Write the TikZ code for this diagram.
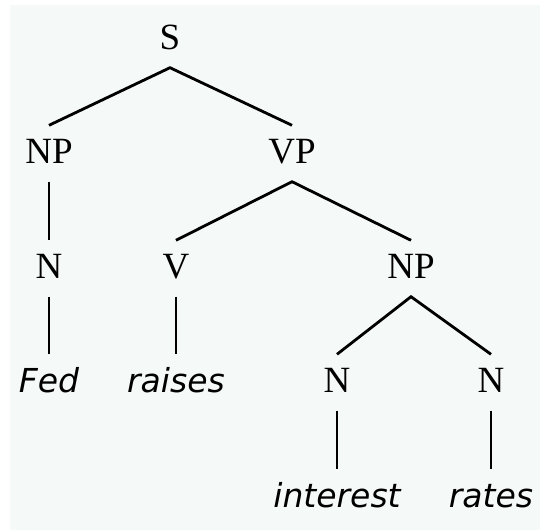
\documentclass[tikz,border=0pt]{standalone}
\usepackage{fontspec}
\usepackage{tikz}
\setmainfont{Liberation Serif}
\newfontfamily\leaffont{DejaVu Sans}
\definecolor{canvas}{RGB}{245, 249, 247}
\definecolor{ink}{RGB}{0, 0, 0}
\newcommand{\lex}[1]{{\leaffont\itshape #1}}

\begin{document}
\begin{tikzpicture}[x=1pt, y=-1pt,
    phrase/.style={anchor=base, inner xsep=0pt, inner ysep=13.5pt,
        text height=24pt, text depth=5pt, font=\fontsize{37}{42}\selectfont},
    leaf/.style={phrase, font=\fontsize{33}{40}\selectfont},
    branch/.style={draw=ink, line width=2.8pt}]
    \useasboundingbox (0,0) rectangle (540,530);
    \fill[canvas] (10,5) rectangle (540,530);

    % categories
    \node[phrase] (s)   at (170,49)  {S};
    \node[phrase] (np)  at (49,163)  {NP};
    \node[phrase] (vp)  at (292,163) {VP};
    \node[phrase] (n)   at (49,278)  {N};
    \node[phrase] (v)   at (176,278) {V};
    \node[phrase] (obj) at (411,278) {NP};
    \node[phrase] (n1)  at (337,392) {N};
    \node[phrase] (n2)  at (491,392) {N};

    % words
    \node[leaf] (fed)      at (49,392)  {\lex{Fed}};
    \node[leaf] (raises)   at (176,392) {\lex{raises}};
    \node[leaf] (interest) at (337,507) {\lex{interest}};
    \node[leaf] (rates)    at (491,507) {\lex{rates}};

    \draw[branch] (np.north) -- (s.south) -- (vp.north);
    \draw[branch] (v.north) -- (vp.south) -- (obj.north);
    \draw[branch] (n1.north) -- (obj.south) -- (n2.north);
    \draw[branch] (np.south) -- (n.north);
    \draw[branch] (n.south) -- (fed.north);
    \draw[branch] (v.south) -- (raises.north);
    \draw[branch] (n1.south) -- (interest.north);
    \draw[branch] (n2.south) -- (rates.north);
\end{tikzpicture}
\end{document}
